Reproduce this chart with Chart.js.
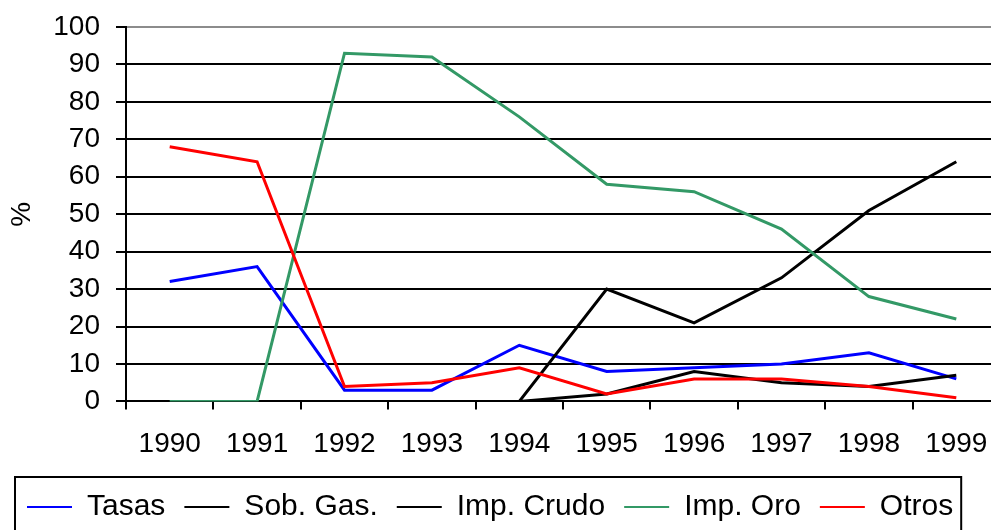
<!DOCTYPE html>
<html>
<head>
<meta charset="utf-8">
<script src="https://cdn.jsdelivr.net/npm/chart.js@4/dist/chart.umd.min.js"></script>
<style>
    html, body { margin: 0; padding: 0; background: #fff; overflow: hidden; }
    #wrap { position: absolute; left: 0; top: 0; }
</style>
</head>
<body>
<div id="wrap"><canvas id="chart" width="1010" height="532"></canvas></div>
<script>
// datos
const years = ['1990', '1991', '1992', '1993', '1994', '1995', '1996', '1997', '1998', '1999'];
const tasas = [32, 36, 3, 3, 15, 8, 9, 10, 13, 6];
const sobGas = [null, null, null, null, 0, 2, 8, 5, 4, 7];
const impCrudo = [null, null, null, null, 0, 30, 21, 33, 51, 64];
const impOro = [0, 0, 93, 92, 76, 58, 56, 46, 28, 22];
const otros = [68, 64, 4, 5, 9, 2, 6, 6, 4, 1];
const yTicks = [0, 10, 20, 30, 40, 50, 60, 70, 80, 90, 100];

const series = [
    { label: 'Tasas', data: tasas, color: '#0000ff' },
    { label: 'Sob. Gas.', data: sobGas, color: '#000000' },
    { label: 'Imp. Crudo', data: impCrudo, color: '#000000' },
    { label: 'Imp. Oro', data: impOro, color: '#339966' },
    { label: 'Otros', data: otros, color: '#ff0000' }
];

const FONT = 'Liberation Sans, Arial, sans-serif';

// recuadro de la leyenda
const legendBox = {
    id: 'legendBox',
    afterDraw(chart) {
        const lg = chart.legend;
        if (!lg || !lg.legendHitBoxes.length) return;
        const boxes = lg.legendHitBoxes;
        const first = boxes[0];
        const last = boxes[boxes.length - 1];
        const ctx = chart.ctx;
        ctx.save();
        ctx.strokeStyle = '#000';
        ctx.lineWidth = 2;
        ctx.strokeRect(first.left - 12, first.top - 15, (last.left + last.width) - first.left + 20, 80);
        ctx.restore();
    }
};

const datasets = series.map((s, i) => ({
    label: s.label,
    data: s.data,
    borderColor: s.color,
    backgroundColor: s.color,
    borderWidth: 3,
    pointRadius: 0,
    tension: 0,
    spanGaps: false,
    order: series.length - i
}));

new Chart(document.getElementById('chart'), {
    type: 'line',
    data: { labels: years, datasets: datasets },
    options: {
        responsive: false,
        devicePixelRatio: 1,
        animation: false,
        layout: { padding: { left: 8, right: 10, top: 27, bottom: 0 } },
        plugins: {
            tooltip: { enabled: false },
            legend: {
                position: 'bottom',
                align: 'start',
                labels: {
                    font: { family: FONT, size: 30 },
                    color: '#000',
                    boxWidth: 45,
                    boxHeight: 2,
                    padding: 19,
                    sort: (a, b) => a.datasetIndex - b.datasetIndex,
                    generateLabels(chart) {
                        const items = Chart.defaults.plugins.legend.labels.generateLabels(chart);
                        items.forEach(it => { it.lineWidth = 0; });
                        return items;
                    }
                }
            }
        },
        scales: {
            x: {
                offset: true,
                afterFit(scale) { scale.height -= 6; },
                grid: {
                    offset: true,
                    drawOnChartArea: false,
                    color: '#000',
                    lineWidth: 2,
                    tickLength: 8
                },
                border: { color: '#000', width: 2 },
                ticks: {
                    font: { family: FONT, size: 28 },
                    color: '#000',
                    padding: 18,
                    maxRotation: 0,
                    autoSkip: false
                }
            },
            y: {
                min: 0,
                max: 100,
                afterBuildTicks(scale) {
                    scale.ticks = yTicks.map(v => ({ value: v }));
                },
                afterFit(scale) {
                    scale.width = 118;
                    scale.paddingTop = 0;
                    scale.paddingBottom = 0;
                },
                grid: {
                    color: ctx => (ctx.tick && ctx.tick.value === 100 ? '#8c8c8c' : '#000'),
                    tickColor: '#000',
                    lineWidth: 2,
                    tickLength: 10
                },
                border: { color: '#000', width: 2 },
                ticks: {
                    font: { family: FONT, size: 28 },
                    color: '#000',
                    padding: 16,
                    autoSkip: false
                },
                title: {
                    display: true,
                    text: '%',
                    font: { family: FONT, size: 28, lineHeight: 1 },
                    color: '#000',
                    padding: 0
                }
            }
        }
    },
    plugins: [legendBox]
});
</script>
</body>
</html>
